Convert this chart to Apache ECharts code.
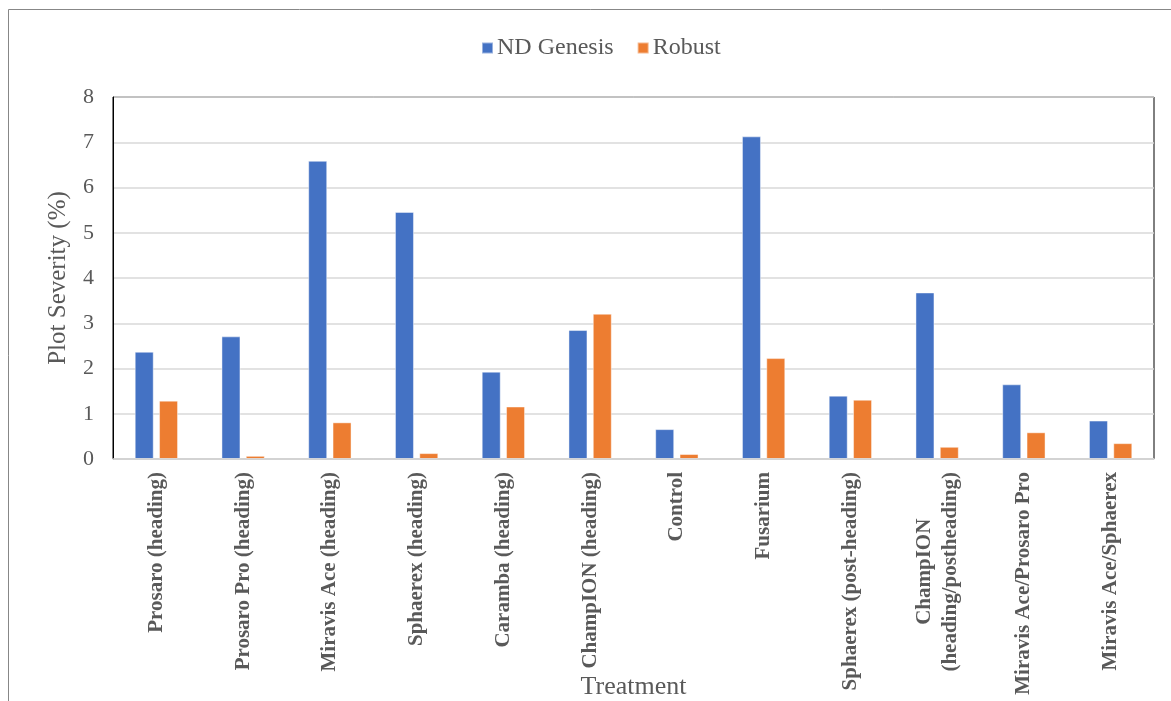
<!DOCTYPE html>
<html>
<head>
<meta charset="utf-8">
<script src="https://cdn.jsdelivr.net/npm/echarts@6/dist/echarts.min.js"></script>
<style>
html,body{margin:0;padding:0;background:#fff;}
#c{width:1171px;height:701px;}
</style>
</head>
<body>
<div id="c"></div>
<script>
const categories = [
  'Prosaro (heading)', 'Prosaro Pro (heading)', 'Miravis Ace (heading)', 'Sphaerex (heading)',
  'Caramba (heading)', 'ChampION (heading)', 'Control', 'Fusarium',
  'Sphaerex (post-heading)', 'ChampION (heading/postheading)', 'Miravis Ace/Prosaro Pro', 'Miravis Ace/Sphaerex'
];
const ndGenesis = [2.37, 2.71, 6.59, 5.46, 1.93, 2.85, 0.66, 7.13, 1.40, 3.68, 1.65, 0.85];
const robust    = [1.29, 0.07, 0.81, 0.13, 1.16, 3.21, 0.11, 2.23, 1.31, 0.27, 0.59, 0.35];
const yTicks = [0, 1, 2, 3, 4, 5, 6, 7, 8];

const FONT = '"Liberation Serif", "Times New Roman", serif';
const GRAY = '#595959';

const chart = echarts.init(document.getElementById('c'));
chart.setOption({
  animation: false,
  backgroundColor: '#fff',
  textStyle: { fontFamily: FONT },
  graphic: [{
    type: 'rect', silent: true, z: -10,
    shape: { x: 8.5, y: 9.5, width: 1300, height: 900 },
    style: { fill: 'none', stroke: '#878787', lineWidth: 1 }
  }],
  legend: {
    top: 31, left: 476,
    itemWidth: 11, itemHeight: 11, itemGap: 23,
    icon: 'rect',
    textStyle: { fontFamily: FONT, fontSize: 24, color: GRAY, padding: [0, 0, 0, -1] },
    data: ['ND Genesis', 'Robust']
  },
  grid: {
    left: 113, right: 17, top: 97, bottom: 242,
    containLabel: false, outerBoundsMode: 'none',
    show: true, borderColor: '#000', borderWidth: 1, backgroundColor: 'transparent'
  },
  xAxis: {
    type: 'category',
    data: categories,
    name: 'Treatment',
    nameLocation: 'middle',
    nameGap: 215,
    nameMoveOverlap: false,
    nameTextStyle: { fontFamily: FONT, fontSize: 26, color: GRAY },
    axisLine: { show: true, lineStyle: { color: '#d9d9d9', width: 1.5 } },
    axisTick: { show: false },
    z: 5,
    axisLabel: {
      interval: 0, rotate: 90, margin: 13,
      fontFamily: FONT, fontSize: 21, fontWeight: 'bold', color: GRAY,
      formatter: function (v) {
        if (v === 'ChampION (heading/postheading)') {
          return '{c|ChampION}\n{c|(heading/postheading)}';
        }
        return v;
      },
      rich: {
        c: { align: 'center', fontFamily: FONT, fontSize: 21, fontWeight: 'bold', color: GRAY, lineHeight: 26 }
      }
    }
  },
  yAxis: {
    type: 'value',
    min: yTicks[0], max: yTicks[yTicks.length - 1], interval: 1,
    name: 'Plot Severity (%)',
    nameLocation: 'middle',
    nameGap: 42,
    nameMoveOverlap: false,
    nameTextStyle: { fontFamily: FONT, fontSize: 25, color: GRAY },
    axisLine: { show: true, lineStyle: { color: '#000', width: 1 } },
    axisTick: { show: false },
    axisLabel: { fontFamily: FONT, fontSize: 22, color: GRAY, margin: 19 },
    splitLine: { show: true, lineStyle: { color: '#d9d9d9', width: 1.5 } }
  },
  series: [
    {
      name: 'ND Genesis', type: 'bar', data: ndGenesis,
      barWidth: 19, barGap: '28%',
      itemStyle: { color: '#4472C4', borderColor: 'rgba(255,255,255,0.45)', borderWidth: 1 }
    },
    {
      name: 'Robust', type: 'bar', data: robust,
      barWidth: 19, barGap: '28%',
      itemStyle: { color: '#ED7D31', borderColor: 'rgba(255,255,255,0.45)', borderWidth: 1 }
    }
  ]
});
</script>
</body>
</html>
